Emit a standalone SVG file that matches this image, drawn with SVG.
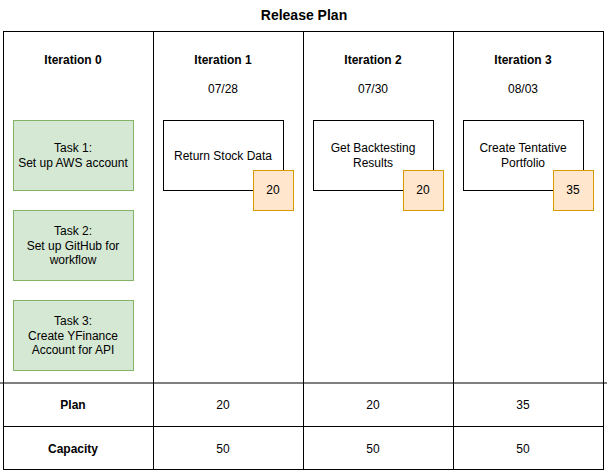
<svg xmlns="http://www.w3.org/2000/svg" width="608" height="472" viewBox="0 0 608 472">
<style>
text{font-family:"Liberation Sans",Arial,sans-serif;font-size:12px;fill:#000;text-anchor:middle}
.b{font-weight:bold}
.title{font-size:14px;font-weight:bold}
.frame{fill:none;stroke:#000;stroke-width:1}
.task{fill:#d5e8d4;stroke:#82b366;stroke-width:1}
.story{fill:#fff;stroke:#000;stroke-width:1}
.pts{fill:#ffe6cc;stroke:#d79b00;stroke-width:1}
</style>
<rect width="608" height="472" fill="#fff"/>
<text class="title" x="304" y="20">Release Plan</text>
<g id="grid">
<rect class="frame" x="3.5" y="31.5" width="600" height="438"/>
<line class="frame" x1="153.5" y1="31.5" x2="153.5" y2="469.5"/>
<line class="frame" x1="303.5" y1="31.5" x2="303.5" y2="469.5"/>
<line class="frame" x1="453.5" y1="31.5" x2="453.5" y2="469.5"/>
<line class="frame" x1="0" y1="383" x2="607" y2="383"/>
<line class="frame" x1="3.5" y1="426.5" x2="603.5" y2="426.5"/>
</g>
<g id="headers">
<text class="b" x="73" y="64">Iteration 0</text>
<text class="b" x="223" y="64">Iteration 1</text>
<text class="b" x="373" y="64">Iteration 2</text>
<text class="b" x="523" y="64">Iteration 3</text>
<text x="223" y="93">07/28</text>
<text x="373" y="93">07/30</text>
<text x="523" y="93">08/03</text>
</g>
<g id="task1">
<rect class="task" x="13.5" y="120.5" width="120" height="70"/>
<text x="73" y="152">Task 1:</text>
<text x="73" y="166.5">Set up AWS account</text>
</g>
<g id="task2">
<rect class="task" x="13.5" y="210.5" width="120" height="70"/>
<text x="73" y="235">Task 2:</text>
<text x="73" y="249.5">Set up GitHub for</text>
<text x="73" y="264">workflow</text>
</g>
<g id="task3">
<rect class="task" x="13.5" y="300.5" width="120" height="70"/>
<text x="73" y="325">Task 3:</text>
<text x="73" y="339.5">Create YFinance</text>
<text x="73" y="354">Account for API</text>
</g>
<g id="story1">
<rect class="story" x="163.5" y="120.5" width="120" height="70"/>
<text x="223" y="159.5">Return Stock Data</text>
</g>
<g id="points1">
<rect class="pts" x="253.5" y="170.5" width="40" height="40"/>
<text x="273" y="194">20</text>
</g>
<g id="story2">
<rect class="story" x="313.5" y="120.5" width="120" height="70"/>
<text x="373" y="152">Get Backtesting</text>
<text x="373" y="166.5">Results</text>
</g>
<g id="points2">
<rect class="pts" x="403.5" y="170.5" width="40" height="40"/>
<text x="423" y="194">20</text>
</g>
<g id="story3">
<rect class="story" x="463.5" y="120.5" width="120" height="70"/>
<text x="523" y="152">Create Tentative</text>
<text x="523" y="166.5">Portfolio</text>
</g>
<g id="points3">
<rect class="pts" x="553.5" y="170.5" width="40" height="40"/>
<text x="573" y="194">35</text>
</g>
<g id="rows">
<text class="b" x="73" y="408.5">Plan</text>
<text x="223" y="408.5">20</text>
<text x="373" y="408.5">20</text>
<text x="523" y="408.5">35</text>
<text class="b" x="73" y="452.5">Capacity</text>
<text x="223" y="452.5">50</text>
<text x="373" y="452.5">50</text>
<text x="523" y="452.5">50</text>
</g>
<g id="connectors"></g>
</svg>
